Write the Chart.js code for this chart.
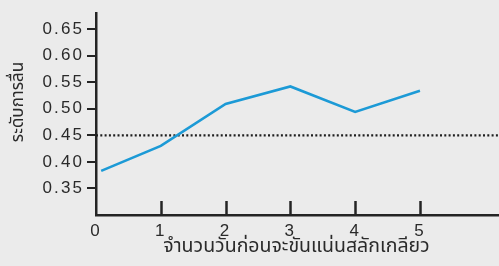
<!DOCTYPE html>
<html><head><meta charset="utf-8">
<script src="https://cdn.jsdelivr.net/npm/chart.js@4/dist/chart.umd.min.js"></script>
<style>
html,body{margin:0;padding:0;background:#ebebeb;overflow:hidden}
#wrap{width:499px;height:266px;position:relative}
</style>
</head><body><div id="wrap"><canvas id="c"></canvas></div>
<script>
const days = [0.08, 1, 2, 3, 4, 5];
const vibration = [0.383, 0.430, 0.509, 0.542, 0.494, 0.534];
const thresholdX = [0, 6.22];
const thresholdValue = 0.45;
const xTickValues = [0, 1, 2, 3, 4, 5];
const xInnerTicks = [1, 2, 3, 4, 5];
const yTickValues = [0.35, 0.40, 0.45, 0.50, 0.55, 0.60, 0.65];
const xTitle = 'จำนวนวันก่อนจะขันแน่นสลักเกลียว';
const yTitle = 'ระดับการลื่น';

const INK = '#242424';
const TICK_FONT = {family: "'Liberation Sans', Arial, sans-serif", size: 17};
const X_TITLE_FONT = "19.5px 'Noto Sans Thai', 'Noto Sans', 'Liberation Sans', sans-serif";
const Y_TITLE_FONT = "17px 'Noto Sans Thai', 'Noto Sans', 'Liberation Sans', sans-serif";
const LS = '2.1px';

const spacing = {
  id: 'spacing',
  beforeUpdate(c){ c.ctx.letterSpacing = LS; },
  beforeLayout(c){ c.ctx.letterSpacing = LS; },
  beforeDraw(c){ c.ctx.letterSpacing = LS; }
};

const extras = {
  id: 'extras',
  afterDraw(c){
    const ctx = c.ctx, xs = c.scales.x, a = c.chartArea;
    ctx.save();
    ctx.strokeStyle = INK; ctx.lineWidth = 2.5;
    xInnerTicks.forEach(v => {
      const px = Math.round(xs.getPixelForValue(v)) + 0.5;
      ctx.beginPath(); ctx.moveTo(px, a.bottom); ctx.lineTo(px, a.bottom - 14); ctx.stroke();
    });
    ctx.letterSpacing = '0px';
    ctx.fillStyle = '#2a2a2a';
    ctx.textAlign = 'center'; ctx.textBaseline = 'middle';
    ctx.font = X_TITLE_FONT;
    ctx.fillText(xTitle, (a.left + a.right) / 2 - 1, 248);
    ctx.font = Y_TITLE_FONT;
    ctx.translate(20, 102);
    ctx.rotate(-Math.PI / 2);
    ctx.fillText(yTitle, 0, 0);
    ctx.restore();
  }
};

new Chart(document.getElementById('c'), {
  type: 'scatter',
  data: {
    datasets: [
      {
        data: days.map((d, i) => ({x: d, y: vibration[i]})),
        showLine: true, borderColor: '#1c9ad6', borderWidth: 2.6,
        pointRadius: 0, tension: 0, fill: false
      },
      {
        data: thresholdX.map(x => ({x: x, y: thresholdValue})),
        showLine: true, borderColor: '#1f1f1f', borderWidth: 2.2,
        borderDash: [2, 2.3], pointRadius: 0, fill: false
      }
    ]
  },
  options: {
    responsive: true, maintainAspectRatio: false, animation: false,
    layout: {padding: {left: 0, top: 7, right: 0, bottom: 0}},
    plugins: {legend: {display: false}, tooltip: {enabled: false}},
    scales: {
      x: {
        type: 'linear', min: 0, max: 6.22,
        afterBuildTicks(s){ s.ticks = xTickValues.map(v => ({value: v})); },
        afterFit(s){ s.height = 51; },
        grid: {display: false, drawTicks: false},
        border: {display: true, color: INK, width: 2.5},
        ticks: {color: '#2a2a2a', font: TICK_FONT, padding: 6, maxRotation: 0,
                callback: v => String(v)}
      },
      y: {
        type: 'linear', min: 0.30, max: 0.68,
        afterBuildTicks(s){ s.ticks = yTickValues.map(v => ({value: v})); },
        afterFit(s){ s.width = 96; },
        grid: {display: true, drawOnChartArea: false, drawTicks: true, tickLength: 9,
               color: INK, lineWidth: 2},
        border: {display: true, color: INK, width: 2.5},
        ticks: {color: '#2a2a2a', font: TICK_FONT, padding: 3,
                callback: v => v.toFixed(2)}
      }
    }
  },
  plugins: [spacing, extras]
});
</script>
</body></html>
